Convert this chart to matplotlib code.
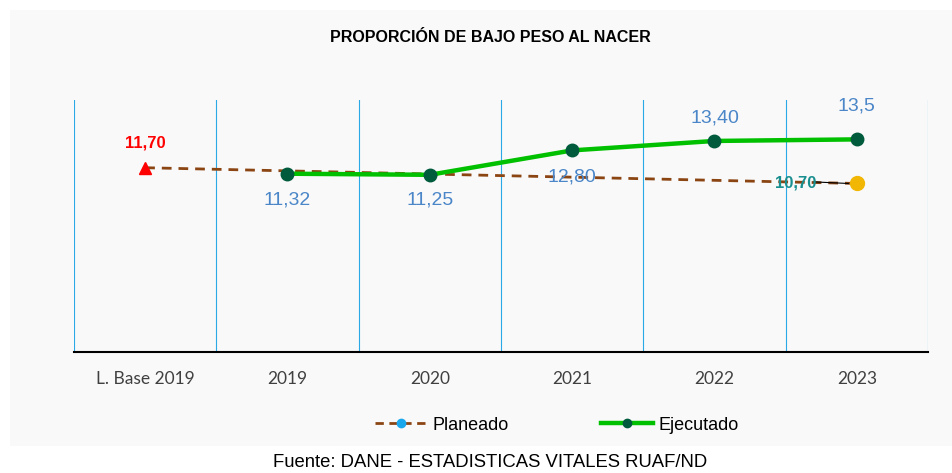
import matplotlib
matplotlib.use("Agg")
import matplotlib.pyplot as plt
from matplotlib.lines import Line2D
from matplotlib.patches import Rectangle

categories = ["L. Base 2019", "2019", "2020", "2021", "2022", "2023"]
planeado = [11.70, 11.50, 11.30, 11.10, 10.90, 10.70]
ejecutado = [None, 11.32, 11.25, 12.80, 13.40, 13.5]
ejec_labels = ["", "11,32", "11,25", "12,80", "13,40", "13,5"]
base_label = "11,70"
meta_label = "10,70"

fig = plt.figure(figsize=(9.53, 4.73), dpi=100)
fig.patch.set_facecolor("white")
fig.patches.append(Rectangle((10 / 953, 1 - 446 / 473), 1 - 10 / 953, (446 - 10) / 473,
                             transform=fig.transFigure, facecolor="#f9f9f9",
                             edgecolor="none", zorder=-10))

ax = fig.add_axes([74 / 953, 1 - 352 / 473, (928 - 74) / 953, (352 - 100) / 473])
ax.set_facecolor("none")
x = list(range(len(categories)))

# vertical separators between categories
for b in [i - 0.5 for i in range(len(categories) + 1)]:
    ax.axvline(b, color="#2aa9e6", lw=0.8, zorder=1)

# planned line (dashed, brown)
ax.plot(x, planeado, color="#8b4513", lw=2, ls=(0, (3.5, 2.5)), zorder=3)
ax.plot(x[0], planeado[0], marker="^", color="red", ms=9, ls="none", zorder=4)
ax.plot(x[-1], planeado[-1], marker="o", color="#f2b705", ms=10, ls="none", zorder=4)

# executed line (green)
xe = [xi for xi, v in zip(x, ejecutado) if v is not None]
ye = [v for v in ejecutado if v is not None]
ax.plot(xe, ye, color="#00c000", lw=3.2, marker="o", ms=9,
        markerfacecolor="#005a3c", markeredgecolor="#005a3c", zorder=5)

# labels
ax.text(x[0], planeado[0] + 1.55, base_label, color="red", fontweight="bold",
        fontsize=12, ha="center", va="center", family="Liberation Sans")
offsets = [0, -1.65, -1.6, -1.7, 1.45, 2.1]
for xi, v, lab, dy in zip(x, ejecutado, ejec_labels, offsets):
    if v is None:
        continue
    ax.text(xi, v + dy, lab, color="#4a86c8", fontsize=14, ha="center",
            va="center", family="Liberation Sans", zorder=6)
ax.plot([x[-1] - 0.3, x[-1] - 0.06], [planeado[-1] + 0.1, planeado[-1]],
        color="black", lw=0.8, zorder=6)
ax.text(x[-1] - 0.43, planeado[-1] + 0.05, meta_label, color="#1a8f8f",
        fontweight="bold", fontsize=12, ha="center", va="center",
        family="Liberation Sans", zorder=6)

ax.set_xlim(-0.5, len(categories) - 0.5)
ax.set_ylim(0, 16)
ax.set_yticks([])
ax.set_xticks(x)
ax.set_xticklabels(categories, fontsize=12.5, color="#404040", family="Lato")
ax.tick_params(axis="x", length=0, pad=14)
for s in ["top", "right", "left"]:
    ax.spines[s].set_visible(False)
ax.spines["bottom"].set_color("black")
ax.spines["bottom"].set_linewidth(1.5)

fig.text(490 / 953, 1 - 37 / 473, "PROPORCIÓN DE BAJO PESO AL NACER",
         fontsize=11.5, fontweight="bold", ha="center", va="center",
         family="Liberation Sans")

handles = [
    Line2D([], [], color="#8b4513", lw=2, ls=(0, (3, 2)), marker="o", ms=6,
           markerfacecolor="#1aa7ec", markeredgecolor="#1aa7ec"),
    Line2D([], [], color="#00c000", lw=3.2, marker="o", ms=6,
           markerfacecolor="#005a3c", markeredgecolor="#005a3c"),
]
fig.legend(handles, ["Planeado", "Ejecutado"], loc="center",
           bbox_to_anchor=(557 / 953, 1 - 425 / 473), ncol=2, frameon=False,
           prop={"family": "Liberation Sans", "size": 13}, handlelength=2.9,
           handletextpad=0.3, columnspacing=5.1)

fig.text(490 / 953, 1 - 462 / 473, "Fuente: DANE - ESTADISTICAS VITALES RUAF/ND",
         fontsize=13.3, ha="center", va="center", family="Liberation Sans")

fig.savefig("out.png", dpi=100)
